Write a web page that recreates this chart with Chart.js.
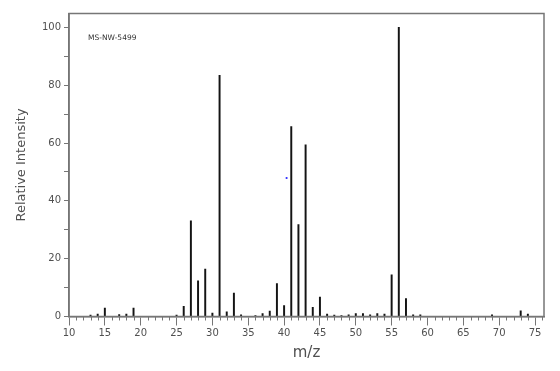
<!DOCTYPE html>
<html><head><meta charset="utf-8">
<script src="https://cdn.jsdelivr.net/npm/chart.js@4.4.1/dist/chart.umd.min.js"></script>
<style>html,body{margin:0;padding:0;background:#fff}#wrap{width:560px;height:371px}</style>
</head><body><div id="wrap"><canvas id="c" width="560" height="371"></canvas></div>
<script>
// m/z values and relative intensities
const mz =        [13, 14, 15, 17, 18, 19, 25, 26, 27, 28, 29, 30, 31, 32, 33, 34, 36, 37, 38, 39, 40, 41, 42, 43, 44, 45, 46, 47, 48, 49, 50, 51, 52, 53, 54, 55, 56, 57, 58, 59, 69, 73, 74];
const intensity = [0.5,0.8,2.9,0.7,0.8,2.9,0.5,3.5,33.1,12.3,16.4,1.2,83.4,1.6,8.1,0.6,0.3,1.0,1.9,11.4,3.8,65.7,31.8,59.4,3.2,6.7,0.8,0.5,0.3,0.6,1.0,1.0,0.6,1.0,0.8,14.4,100,6.2,0.6,0.6,0.6,2.0,0.8];
const markerX = [40.35];
const markerY = [47.9];
const xTickValues = [10,15,20,25,30,35,40,45,50,55,60,65,70,75];
const yTickValues = [0,10,20,30,40,50,60,70,80,90,100];
const yTickLabels = [0,20,40,60,80,100];
const spectrumId = 'MS-NW-5499';
const xTitle = 'm/z';
const yTitle = 'Relative Intensity';

const AXIS = '#767676';
const TEXT = '#505050';

const framePlugin = {
  id: 'frame',
  afterDraw(chart) {
    const {ctx, chartArea: a, scales: {x}} = chart;
    ctx.save();
    // minor ticks at every integer m/z
    ctx.strokeStyle = AXIS;
    ctx.lineWidth = 1;
    ctx.beginPath();
    for (let v = Math.ceil(x.min); v <= Math.floor(x.max); v++) {
      if (xTickValues.includes(v)) continue;
      const px = Math.round(x.getPixelForValue(v)) + 0.5;
      ctx.moveTo(px, a.bottom);
      ctx.lineTo(px, a.bottom + 4);
    }
    ctx.stroke();
    // frame
    ctx.lineWidth = 1.5;
    ctx.strokeRect(a.left, a.top, a.right - a.left, a.bottom - a.top);
    // spectrum id
    ctx.fillStyle = '#333';
    ctx.font = '7.5px "DejaVu Sans"';
    ctx.textBaseline = 'middle';
    ctx.fillText(spectrumId, a.left + 19, a.top + 25);
    ctx.restore();
  }
};

new Chart(document.getElementById('c'), {
  data: {
    datasets: [
      {
        type: 'bar',
        label: 'spectrum',
        data: mz.map((m, i) => ({x: m, y: intensity[i]})),
        backgroundColor: '#141414',
        borderWidth: 0,
        barThickness: 1.3,
        grouped: false
      },
      {
        type: 'scatter',
        label: 'marker',
        data: markerX.map((m, i) => ({x: m, y: markerY[i]})),
        backgroundColor: '#2a2aff',
        borderWidth: 0,
        pointRadius: 1.1
      }
    ]
  },
  options: {
    responsive: false,
    animation: false,
    devicePixelRatio: 1,
    layout: {padding: {top: 13.5, right: 16, left: 0, bottom: 0}},
    plugins: {legend: {display: false}, tooltip: {enabled: false}},
    scales: {
      x: {
        type: 'linear',
        min: 10, max: 76.25,
        offset: false,
        afterFit: s => { s.height = 54.5; },
        afterBuildTicks: s => { s.ticks = xTickValues.map(v => ({value: v})); },
        grid: {display: true, drawOnChartArea: false, offset: false, tickLength: 9, color: AXIS, lineWidth: 1},
        border: {display: true, color: AXIS, width: 1.5},
        ticks: {autoSkip: false, maxRotation: 0, padding: 2, color: TEXT, font: {family: 'DejaVu Sans', size: 10}},
        title: {display: true, text: xTitle, color: TEXT, font: {family: 'DejaVu Sans', size: 15}, padding: {top: 0, bottom: 9}}
      },
      y: {
        type: 'linear',
        min: 0, max: 104.8,
        afterFit: s => { s.width = 69; },
        afterBuildTicks: s => { s.ticks = yTickValues.map(v => ({value: v})); },
        grid: {display: true, drawOnChartArea: false, tickLength: 5, color: AXIS, lineWidth: 1},
        border: {display: true, color: AXIS, width: 1.5},
        ticks: {autoSkip: false, padding: 3, color: TEXT, font: {family: 'DejaVu Sans', size: 10},
                callback: v => yTickLabels.includes(v) ? String(v) : ''},
        title: {display: true, text: yTitle, color: TEXT, font: {family: 'DejaVu Sans', size: 13}, padding: {top: 14, bottom: 0}}
      }
    }
  },
  plugins: [framePlugin]
});
</script>
</body></html>
